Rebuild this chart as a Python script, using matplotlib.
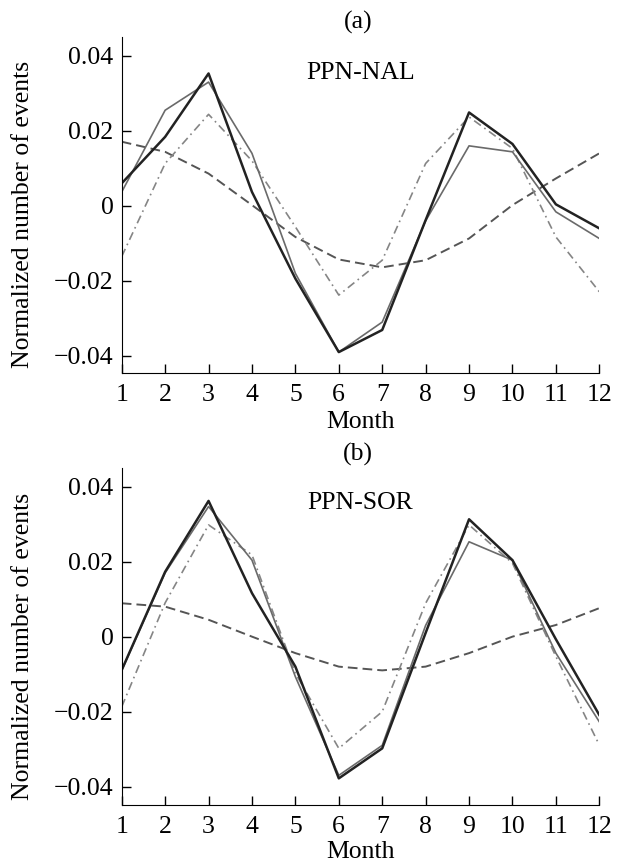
import matplotlib
matplotlib.use("Agg")
import matplotlib.pyplot as plt

months = list(range(1, 13))

# panel (a) PPN-NAL
nal_obs = [0.006, 0.0184, 0.0353, 0.0037, -0.0194, -0.039, -0.0331, -0.0038, 0.0249, 0.0165, 0.0004, -0.006]
nal_fit = [0.0037, 0.0255, 0.033, 0.014, -0.018, -0.039, -0.031, -0.004, 0.016, 0.0144, -0.0016, -0.0087]
nal_semi = [-0.0135, 0.0113, 0.0244, 0.012, -0.0056, -0.0238, -0.0145, 0.0113, 0.0237, 0.0153, -0.0083, -0.0229]
nal_annual = [0.0171, 0.0144, 0.0086, 0.0002, -0.0083, -0.0143, -0.0164, -0.0145, -0.0087, 0.0002, 0.0073, 0.014]

# panel (b) PPN-SOR
sor_obs = [-0.0089, 0.0173, 0.0362, 0.0116, -0.008, -0.0378, -0.0298, 0.001, 0.0313, 0.0204, -0.0007, -0.0209]
sor_fit = [-0.009, 0.017, 0.0347, 0.0204, -0.0107, -0.037, -0.029, 0.003, 0.0253, 0.0204, -0.0044, -0.0227]
sor_semi = [-0.0187, 0.009, 0.0298, 0.0218, -0.0098, -0.0298, -0.020, 0.0089, 0.0298, 0.0196, -0.0053, -0.0289]
sor_annual = [0.0089, 0.008, 0.0045, 0.0, -0.0044, -0.008, -0.009, -0.008, -0.0044, 0.0, 0.0031, 0.0076]

yticks = [-0.04, -0.02, 0, 0.02, 0.04]
yticklabels = ["\u22120.04", "\u22120.02", "0", "0.02", "0.04"]

plt.rcParams["font.family"] = ["Liberation Serif", "DejaVu Serif"]
plt.rcParams["font.size"] = 18.5

fig = plt.figure(figsize=(6.22, 8.68), dpi=100)
axA = fig.add_axes([0.1957, 0.5706, 0.7678, 0.3871])
axB = fig.add_axes([0.1957, 0.0726, 0.7678, 0.3879])


def drawPanel(ax, obs, fit, semi, annual, name, letter, ylim, xlab_y, title_y, name_y):
    ax.plot(months, annual, color="#555555", lw=1.4, ls=(0, (5, 2.6)))
    ax.plot(months, semi, color="#858585", lw=1.2, ls=(0, (5, 2.5, 1, 2.5)))
    ax.plot(months, fit, color="#6a6a6a", lw=1.2)
    ax.plot(months, obs, color="#222222", lw=1.8)
    ax.set_xlim(1, 12)
    ax.set_ylim(*ylim)
    ax.set_xticks(months)
    ax.set_yticks(yticks)
    ax.set_yticklabels(yticklabels)
    ax.spines["top"].set_visible(False)
    ax.spines["right"].set_visible(False)
    ax.tick_params(direction="in", length=6.5, width=1)
    ax.tick_params(axis="x", pad=8)
    ax.tick_params(axis="y", pad=6)
    ax.set_xlabel("Month")
    ax.xaxis.set_label_coords(0.5, xlab_y)
    ax.set_ylabel("Normalized number of events")
    ax.yaxis.set_label_coords(-0.1836, 0.472)
    ax.text(0.495, title_y, letter, transform=ax.transAxes, ha="center", va="center")
    ax.text(0.5, name_y, name, transform=ax.transAxes, ha="center", va="center")


drawPanel(axA, nal_obs, nal_fit, nal_semi, nal_annual, "PPN-NAL", "(a)",
          (-0.0445, 0.0451), -0.114, 1.041, 0.892)
drawPanel(axB, sor_obs, sor_fit, sor_semi, sor_annual, "PPN-SOR", "(b)",
          (-0.0449, 0.0449), -0.106, 1.0425, 0.897)

fig.savefig("out.png", dpi=100)
